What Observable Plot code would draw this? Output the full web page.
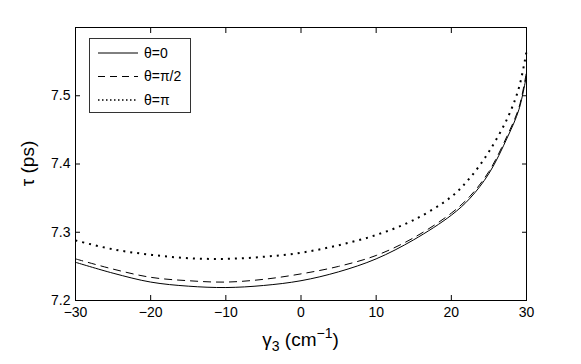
<!DOCTYPE html>
<html><head><meta charset="utf-8">
<script src="https://cdn.jsdelivr.net/npm/d3@7"></script>
<script src="https://cdn.jsdelivr.net/npm/@observablehq/plot@0.6"></script>
<style>
body{margin:0;background:#fff;}
#wrap{position:relative;width:581px;height:364px;}
svg{font-family:"Liberation Sans",Arial,Helvetica,sans-serif;}
</style></head><body><div id="wrap"></div>
<script>
const gamma3 = [-30,-25,-20,-15,-10,-5,0,5,10,15,20,22.5,25,27.5,29,30];
const tauTheta0 = [7.256,7.240,7.227,7.221,7.219,7.222,7.229,7.242,7.261,7.289,7.325,7.350,7.386,7.440,7.480,7.530];
const tauThetaHalfPi = [7.261,7.246,7.234,7.229,7.227,7.231,7.239,7.250,7.266,7.292,7.328,7.353,7.389,7.443,7.483,7.535];
const tauThetaPi = [7.288,7.275,7.267,7.262,7.261,7.264,7.270,7.281,7.296,7.318,7.352,7.380,7.418,7.468,7.512,7.565];
const seriesNames = ["θ=0","θ=π/2","θ=π"];
const xTicks = [-30,-20,-10,0,10,20,30];
const yTicks = [7.2,7.3,7.4,7.5];
const xDomain = [-30,30];
const yDomain = [7.2,7.6];

const seriesValues = [tauTheta0, tauThetaHalfPi, tauThetaPi];
const styles = [
  {dash:null, width:1, legendDash:null},
  {dash:"8,5", width:1, legendDash:"7,5"},
  {dash:"2,5", width:2, legendDash:"1.5,2.5"}
];
const rows = seriesNames.flatMap((s,i)=>gamma3.map((g,j)=>({g, tau:seriesValues[i][j], s})));
const fmtX = d => d<0 ? "\u2212"+(-d) : String(d);

const lines = seriesNames.map((s,i)=>Plot.line(rows.filter(r=>r.s===s), {
  x:"g", y:"tau", stroke:"black", strokeWidth:styles[i].width,
  strokeDasharray:styles[i].dash, strokeLinecap:"butt", curve:"catmull-rom"
}));

const chart = Plot.plot({
  width:581, height:364,
  marginLeft:75, marginRight:55, marginTop:27, marginBottom:64,
  style:{fontFamily:'"Liberation Sans",Arial,Helvetica,sans-serif', fontSize:"14px", color:"black", background:"white"},
  x:{domain:xDomain},
  y:{domain:yDomain},
  marks:[
    ...lines,
    Plot.axisX(xTicks,{anchor:"bottom", tickSize:0, tickPadding:7, tickFormat:fmtX, label:null, fontSize:14}),
    Plot.axisX(xTicks,{anchor:"bottom", tickSize:-5, tickFormat:()=>"", label:null}),
    Plot.axisX(xTicks,{anchor:"top", tickSize:-5, tickFormat:()=>"", label:null}),
    Plot.axisY(yTicks,{anchor:"left", tickSize:0, tickPadding:5, tickFormat:d3.format(".1f"), label:null, fontSize:14}),
    Plot.axisY(yTicks,{anchor:"left", tickSize:-5, tickFormat:()=>"", label:null}),
    Plot.axisY(yTicks,{anchor:"right", tickSize:-5, tickFormat:()=>"", label:null}),
    Plot.frame({stroke:"black", strokeWidth:1})
  ]
});
document.getElementById("wrap").appendChild(chart);

const svg = d3.select(chart);
const ff = '"Liberation Sans",Arial,Helvetica,sans-serif';
// x label
const xl = svg.append("text").attr("x",300.5).attr("y",346).attr("text-anchor","middle")
  .attr("font-size",19).attr("font-family",ff).attr("fill","black");
xl.append("tspan").text("γ");
xl.append("tspan").attr("font-size",14).attr("dy",5).text("3");
xl.append("tspan").attr("dy",-5).text(" (cm");
xl.append("tspan").attr("font-size",14).attr("dy",-8).text("\u22121");
xl.append("tspan").attr("dy",8).text(")");
// y label
svg.append("text").attr("transform","translate(34,163.5) rotate(-90)").attr("text-anchor","middle")
  .attr("font-size",19).attr("font-family",ff).attr("fill","black").text("τ (ps)");
// legend
const lg = svg.append("g").attr("transform","translate(89,38)");
lg.append("rect").attr("x",0.5).attr("y",0.5).attr("width",101).attr("height",74)
  .attr("fill","white").attr("stroke","#333").attr("stroke-width",1);
seriesNames.forEach((s,i)=>{
  const cy = 15 + i*23.5;
  lg.append("line").attr("x1",9).attr("x2",49).attr("y1",cy).attr("y2",cy)
    .attr("stroke","black").attr("stroke-width",styles[i].width===2?1.6:1)
    .attr("stroke-dasharray",styles[i].legendDash);
  lg.append("text").attr("x",55).attr("y",cy).attr("dy","0.35em").attr("font-size",14)
    .attr("text-anchor","start").attr("font-family",ff).attr("fill","black").text(s);
});
</script></body></html>
